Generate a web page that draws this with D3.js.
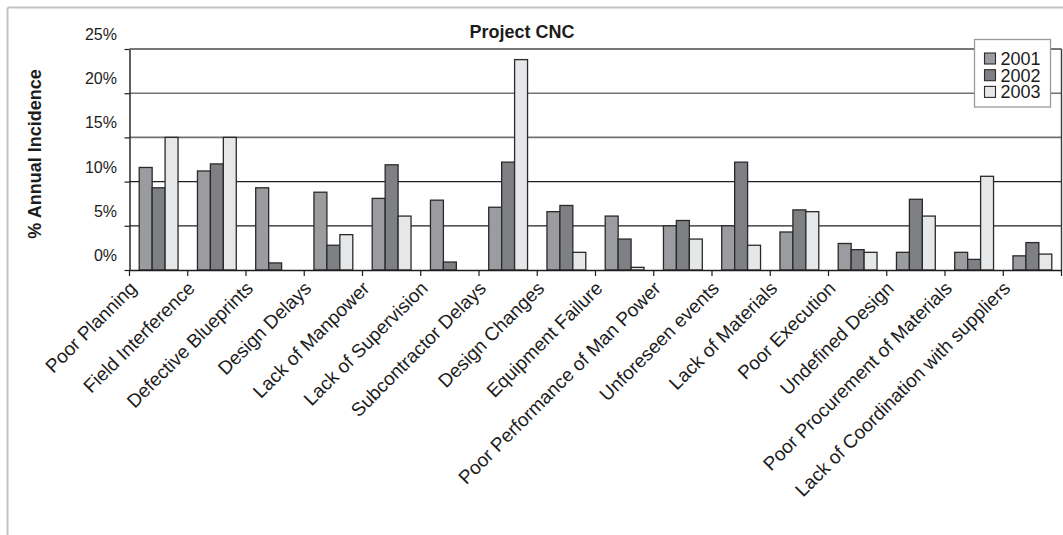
<!DOCTYPE html>
<html>
<head>
<meta charset="utf-8">
<script src="https://cdn.jsdelivr.net/npm/d3@7"></script>
<style>
  html, body { margin: 0; padding: 0; background: #fff; }
  svg { display: block; font-family: "Liberation Sans", Arial, sans-serif; }
</style>
</head>
<body>
<svg id="chart" width="1063" height="535"></svg>
<script>
// Causes of delay, share of annual incidents per year (%)
const categories = [
  "Poor Planning", "Field Interference", "Defective Blueprints", "Design Delays",
  "Lack of Manpower", "Lack of Supervision", "Subcontractor Delays", "Design Changes",
  "Equipment Failure", "Poor Performance of Man Power", "Unforeseen events",
  "Lack of Materials", "Poor Execution", "Undefined Design",
  "Poor Procurement of Materials", "Lack of Coordination with suppliers"
];
const years = ["2001", "2002", "2003"];
const values2001 = [11.6, 11.2, 9.3, 8.8, 8.1, 7.9, 7.1, 6.6, 6.1, 5.0, 5.0, 4.3, 3.0, 2.0, 2.0, 1.6];
const values2002 = [9.3, 12.0, 0.8, 2.8, 11.9, 0.9, 12.2, 7.3, 3.5, 5.6, 12.2, 6.8, 2.3, 8.0, 1.2, 3.1];
const values2003 = [15.0, 15.0, 0, 4.0, 6.1, 0, 23.8, 2.0, 0.3, 3.5, 2.8, 6.6, 2.0, 6.1, 10.6, 1.8];
const yTicks = [0, 5, 10, 15, 20, 25];

const series = [values2001, values2002, values2003];
const fills = ["#9b9ca0", "#7f8084", "#e6e7e9"];
const ink = "#1c1c1c";

const svg = d3.select("#chart");

// outer frame
svg.append("line").attr("x1", 7.5).attr("x2", 1063).attr("y1", 7.5).attr("y2", 7.5)
  .attr("stroke", "#c2c2c2").attr("stroke-width", 2);
svg.append("line").attr("x1", 7.5).attr("x2", 7.5).attr("y1", 7.5).attr("y2", 535)
  .attr("stroke", "#c2c2c2").attr("stroke-width", 2);

const plot = { left: 129.5, right: 1061.5, top: 49, bottom: 270 };

const x0 = d3.scaleBand().domain(categories).range([plot.left, plot.right]).padding(0);
const x1 = d3.scaleBand().domain(years).range([0, x0.bandwidth()])
  .paddingInner(0).paddingOuter(0.75);
const y = d3.scaleLinear().domain([0, 25]).range([plot.bottom, plot.top]);

// horizontal gridlines
const gridColor = { 5: "#202020", 10: "#202020", 15: "#727272", 20: "#727272", 25: "#4a4a4a" };
svg.append("g").selectAll("line").data(yTicks.filter(d => d > 0)).join("line")
  .attr("x1", plot.left).attr("x2", plot.right)
  .attr("y1", d => y(d)).attr("y2", d => y(d))
  .attr("stroke", d => gridColor[d])
  .attr("stroke-width", d => d >= 15 ? 1.6 : 1.2);

// right border of plot area
svg.append("line").attr("x1", plot.right).attr("x2", plot.right)
  .attr("y1", plot.top).attr("y2", plot.bottom)
  .attr("stroke", "#3a3a3a").attr("stroke-width", 1.4);

// bars
const rows = categories.map((c, i) => ({ cat: c, vals: years.map((yr, k) => ({ yr, k, v: series[k][i] })) }));
const groups = svg.append("g").selectAll("g").data(rows).join("g")
  .attr("transform", d => `translate(${x0(d.cat)},0)`);
groups.selectAll("rect").data(d => d.vals.filter(e => e.v > 0)).join("rect")
  .attr("x", d => x1(d.yr))
  .attr("width", x1.bandwidth())
  .attr("y", d => y(d.v))
  .attr("height", d => y(0) - y(d.v))
  .attr("fill", d => fills[d.k])
  .attr("stroke", "#2a2a2a")
  .attr("stroke-width", 1.3);

// y axis (labels sit above their gridlines)
const yAxis = svg.append("g").attr("transform", `translate(${plot.left},0)`)
  .call(d3.axisLeft(y).tickValues(yTicks).tickSize(5).tickSizeOuter(0).tickFormat(d => d + "%"));
yAxis.select(".domain").attr("stroke", ink).attr("stroke-width", 1.4);
yAxis.selectAll(".tick line").attr("stroke", ink).attr("stroke-width", 1.2);
yAxis.selectAll(".tick text")
  .attr("x", -12.5).attr("y", -9.5).attr("dy", null)
  .attr("font-size", 16).attr("fill", ink);

// x axis: baseline, boundary ticks and rotated category labels
const xAxis = svg.append("g").attr("transform", `translate(0,${plot.bottom})`)
  .call(d3.axisBottom(x0).tickSize(0).tickSizeOuter(0));
xAxis.select(".domain").attr("stroke", ink).attr("stroke-width", 1.4);
xAxis.selectAll(".tick text")
  .attr("font-size", 19).attr("fill", ink)
  .attr("text-anchor", "end")
  .attr("dy", null).attr("y", 0)
  .attr("transform", `translate(-21,19.5) rotate(-45)`);

const bounds = categories.map(c => x0(c)).concat([plot.right]);
svg.append("g").selectAll("line").data(bounds).join("line")
  .attr("x1", d => d).attr("x2", d => d)
  .attr("y1", plot.bottom).attr("y2", plot.bottom + 6)
  .attr("stroke", ink).attr("stroke-width", 1.2);

// title
svg.append("text").attr("x", 522).attr("y", 37.5).attr("text-anchor", "middle")
  .attr("font-size", 18).attr("font-weight", "bold").attr("fill", ink)
  .text("Project CNC");

// y axis title
svg.append("text").attr("transform", "translate(41,154) rotate(-90)")
  .attr("text-anchor", "middle")
  .attr("font-size", 18).attr("font-weight", "bold").attr("fill", ink)
  .text("% Annual Incidence");

// legend
const legend = svg.append("g").attr("transform", "translate(974.5,39.5)");
legend.append("rect").attr("width", 76).attr("height", 67.5)
  .attr("fill", "#fff").attr("stroke", "#9a9a9a").attr("stroke-width", 1.3);
const items = legend.selectAll("g").data(years).join("g")
  .attr("transform", (d, i) => `translate(0,${19 + i * 16.7})`);
items.append("rect").attr("x", 10).attr("y", -5.5).attr("width", 11).attr("height", 11)
  .attr("fill", (d, i) => fills[i]).attr("stroke", "#2a2a2a").attr("stroke-width", 1.1);
items.append("text").attr("x", 26).attr("y", 6.5)
  .attr("font-size", 18).attr("fill", ink).text(d => d);
</script>
</body>
</html>
